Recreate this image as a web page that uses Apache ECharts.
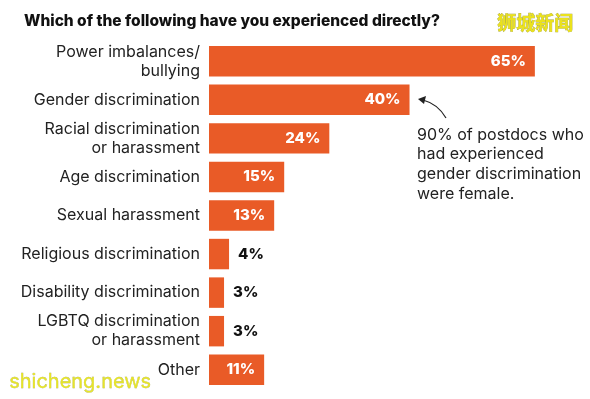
<!DOCTYPE html>
<html>
<head>
<meta charset="utf-8">
<script src="https://cdn.jsdelivr.net/npm/echarts@6/dist/echarts.min.js"></script>
<style>
  html, body { margin: 0; padding: 0; background: #fff; }
  #chart { width: 590px; height: 399px; }
</style>
</head>
<body>
<div id="chart"></div>
<script>
// data
const categories = [
  'Power imbalances/\nbullying',
  'Gender discrimination',
  'Racial discrimination\nor harassment',
  'Age discrimination',
  'Sexual harassment',
  'Religious discrimination',
  'Disability discrimination',
  'LGBTQ discrimination\nor harassment',
  'Other'
];
const values = [65, 40, 24, 15, 13, 4, 3, 3, 11];
const note = '90% of postdocs who\nhad experienced\ngender discrimination\nwere female.';

const orange = '#E95B27';
const font = 'Inter, "Noto Sans", sans-serif';

const chart = echarts.init(document.getElementById('chart'));

// small bars get their label outside in black
const barData = values.map(v => ({
  value: v,
  label: v < 8
    ? { position: 'right', distance: 9, color: '#111' }
    : { position: 'insideRight', distance: 9, color: '#fff' }
}));

chart.setOption({
  animation: false,
  title: {
    text: 'Which of the following have you experienced directly?',
    left: 19, top: 8,
    textStyle: { fontFamily: font, fontSize: 15.5, fontWeight: 800, color: '#111' }
  },
  grid: { left: 209, right: 5, top: 42, height: 347, containLabel: false },
  xAxis: {
    type: 'value', min: 0, max: 75,
    show: false
  },
  yAxis: {
    type: 'category',
    inverse: true,
    data: categories,
    axisLine: { show: false },
    axisTick: { show: false },
    axisLabel: {
      margin: 9,
      fontFamily: font, fontSize: 16, color: '#222', lineHeight: 19, align: 'right'
    }
  },
  series: [{
    type: 'bar',
    data: barData,
    barCategoryGap: '21%',
    itemStyle: { color: orange },
    label: {
      show: true,
      formatter: '{c}%',
      fontFamily: font, fontSize: 15, fontWeight: 800
    }
  }],
  graphic: [
    {
      type: 'text', left: 417, top: 125,
      style: { text: note, font: '16px ' + font, fill: '#222', lineHeight: 19.7 }
    },
    {
      type: 'bezierCurve',
      shape: { x1: 446, y1: 118, x2: 423, y2: 100, cpx1: 438, cpy1: 104 },
      style: { stroke: '#222', lineWidth: 1.2, fill: null }
    },
    {
      type: 'polygon',
      shape: { points: [[418, 99], [426, 96], [424, 104]] },
      style: { fill: '#222' }
    },
    {
      type: 'text', left: 497, top: 13,
      style: { text: '狮城新闻', font: 'bold 19px "Noto Sans CJK SC"', fill: '#EBE21C', stroke: '#9a9a40', lineWidth: 0.6 }
    },
    {
      type: 'text', left: 9, top: 372,
      style: { text: 'shicheng.news', font: '20px ' + font, fill: '#E6E42A', stroke: '#9a9a50', lineWidth: 0.3 }
    }
  ]
});
</script>
</body>
</html>
